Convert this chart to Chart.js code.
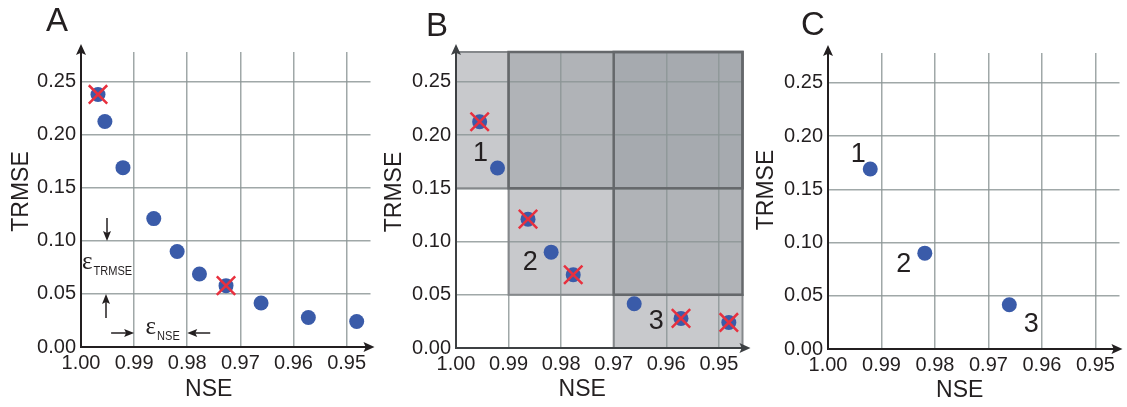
<!DOCTYPE html>
<html><head><meta charset="utf-8">
<script src="https://cdn.jsdelivr.net/npm/chart.js@4"></script>
<style>
html,body{margin:0;padding:0;background:#fff;}
#wrap{position:relative;width:1127px;height:407px;overflow:hidden;background:#fff;}
canvas{position:absolute;top:0;}
</style></head><body>
<div id="wrap">
<canvas id="cA" width="386" height="407" style="left:0px"></canvas>
<canvas id="cB" width="380" height="407" style="left:378px"></canvas>
<canvas id="cC" width="375" height="407" style="left:752px"></canvas>
</div>
<script>
// ---------- data ----------
const nseValues   = [0.9968, 0.9955, 0.9921, 0.9863, 0.9819, 0.9777, 0.9727, 0.9661, 0.9572, 0.9481];
const trmseValues = [0.238, 0.2125, 0.169, 0.121, 0.090, 0.0688, 0.0578, 0.0415, 0.0278, 0.024];
const panelAPoints  = [0, 1, 2, 3, 4, 5, 6, 7, 8, 9];
const panelACrossed = [0, 6];
const panelBPoints  = [1, 2, 3, 4, 5, 7, 8, 9];
const panelBCrossed = [1, 3, 5, 8, 9];
const panelCPoints  = [2, 4, 7];
const panelCCrossed = [];
const solutionIndices = [2, 4, 7];
const solutionLabels  = ['1', '2', '3'];
const xTickValues = [1.00, 0.99, 0.98, 0.97, 0.96, 0.95];
const xTickLabels = ['1.00', '0.99', '0.98', '0.97', '0.96', '0.95'];
const yTickValues = [0.00, 0.05, 0.10, 0.15, 0.20, 0.25];
const yTickLabels = ['0.00', '0.05', '0.10', '0.15', '0.20', '0.25'];
const boxNSE   = [1.00, 0.99, 0.97];
const boxTRMSE = [0.15, 0.05, 0.00];
const epsTRMSE = [0.05, 0.10];
const epsNSE   = [0.99, 0.98];
const panelLetters = ['A', 'B', 'C'];
const xTitle = 'NSE', yTitle = 'TRMSE';
const NSE_MIN = 0.9455, NSE_MAX = 1.0, TRMSE_MIN = 0, TRMSE_MAX = 0.278;

// ---------- style ----------
const SANS = "'Liberation Sans', Arial, Helvetica, sans-serif";
const SERIF = "'Liberation Serif', 'DejaVu Serif', serif";
const TEXT = '#231f20';
const BLUE = '#3a5ba9';
const RED = '#e8303e';
const GRID = 'rgba(139,149,149,0.82)';

function arrowHead(ctx, x, y, dx, dy, len, hw, color) {
  const L = Math.hypot(dx, dy); const ux = dx / L, uy = dy / L;
  ctx.save(); ctx.fillStyle = color; ctx.beginPath();
  ctx.moveTo(x, y);
  ctx.lineTo(x - ux * len - uy * hw, y - uy * len + ux * hw);
  ctx.lineTo(x - ux * len * 0.8, y - uy * len * 0.8);
  ctx.lineTo(x - ux * len + uy * hw, y - uy * len - ux * hw);
  ctx.closePath(); ctx.fill(); ctx.restore();
}
function arrow(ctx, x0, y0, x1, y1) {
  ctx.save(); ctx.strokeStyle = TEXT; ctx.lineWidth = 1.5;
  ctx.beginPath(); ctx.moveTo(x0, y0);
  const dx = x1 - x0, dy = y1 - y0, L = Math.hypot(dx, dy);
  ctx.lineTo(x1 - dx / L * 6, y1 - dy / L * 6); ctx.stroke(); ctx.restore();
  arrowHead(ctx, x1, y1, dx, dy, 10, 4, TEXT);
}
function subText(ctx, txt, x, y) {
  ctx.save();
  ctx.font = '13px ' + SANS;
  ctx.translate(x, y); ctx.scale(0.85, 1);
  ctx.fillText(txt, 0, 0);
  const w = ctx.measureText(txt).width * 0.85;
  ctx.restore();
  return w;
}

const panels = [
  {id: 'cA', letter: panelLetters[0], letterPos: [57, 22], yAxisW: 81, padRight: 9, padTop: 52, xAxisH: 60,
   arrowExt: 4, axisColor: '#231f20', yTitleX: 22, yTitleDY: -8, xTitleDX: -17, xTitleY: 390,
   points: panelAPoints, crossed: panelACrossed, labels: false, boxes: false, eps: true},
  {id: 'cB', letter: panelLetters[1], letterPos: [59, 27], yAxisW: 78, padRight: 9, padTop: 52, xAxisH: 59,
   arrowExt: 8, axisColor: '#3d4043', yTitleX: 17, yTitleDY: -8, xTitleDX: -17, xTitleY: 390,
   points: panelBPoints, crossed: panelBCrossed, labels: true, boxes: true, eps: false,
   labelOffsets: [[-17, -15], [-21, 10], [22, 18]]},
  {id: 'cC', letter: panelLetters[2], letterPos: [61, 26], yAxisW: 76, padRight: 4, padTop: 53, xAxisH: 58,
   arrowExt: 3, axisColor: '#231f20', yTitleX: 15, yTitleDY: -11, xTitleDX: -14, xTitleY: 391,
   points: panelCPoints, crossed: panelCCrossed, labels: true, boxes: false, eps: false,
   labelOffsets: [[-12, -15], [-21, 11], [22, 20]]}
];

function makePanel(cfg) {
  const dotData = cfg.points.map(i => ({x: nseValues[i], y: trmseValues[i]}));
  const crossData = cfg.crossed.map(i => ({x: nseValues[i], y: trmseValues[i]}));
  const datasets = [{
    label: 'solutions', data: dotData, order: 1, showLine: false,
    pointStyle: 'circle', pointRadius: 7.5, pointBackgroundColor: BLUE,
    pointBorderColor: BLUE, pointBorderWidth: 0
  }];
  if (crossData.length) datasets.push({
    label: 'removed', data: crossData, order: 0, showLine: false,
    pointStyle: 'crossRot', pointRadius: 13, pointBorderColor: RED,
    pointBorderWidth: 2.5, pointBackgroundColor: 'transparent'
  });

  const panelPlugin = {
    id: 'panelDecor' + cfg.id,
    beforeDraw(chart) {
      if (!cfg.boxes) return;
      const ctx = chart.ctx, ca = chart.chartArea;
      const px = v => chart.scales.x.getPixelForValue(v), py = v => chart.scales.y.getPixelForValue(v);
      ctx.save();
      for (let i = 0; i < boxNSE.length; i++) {
        const x0 = px(boxNSE[i]);
        const x1 = i + 1 < boxNSE.length ? px(boxNSE[i + 1]) : ca.right;
        const y0 = i === 0 ? ca.top : py(boxTRMSE[i - 1]);
        const y1 = py(boxTRMSE[i]);
        ctx.fillStyle = '#c8c9cc'; ctx.fillRect(x0, y0, x1 - x0, y1 - y0);
      }
      for (let i = 0; i < boxNSE.length - 1; i++) {
        const x0 = px(boxNSE[i + 1]), y1 = py(boxTRMSE[i]);
        ctx.fillStyle = '#b0b3b7'; ctx.fillRect(x0, ca.top, ca.right - x0, y1 - ca.top);
      }
      for (let i = 0; i < boxNSE.length - 1; i++) {
        for (let j = i + 1; j < boxNSE.length - 1; j++) {
          const x0 = px(boxNSE[j + 1]), y1 = py(boxTRMSE[i]);
          ctx.fillStyle = '#a6aaaf'; ctx.fillRect(x0, ca.top, ca.right - x0, y1 - ca.top);
        }
      }
      ctx.restore();
    },
    beforeDatasetsDraw(chart) {
      if (!cfg.boxes) return;
      const ctx = chart.ctx, ca = chart.chartArea;
      const px = v => chart.scales.x.getPixelForValue(v), py = v => chart.scales.y.getPixelForValue(v);
      ctx.save();
      for (let i = 0; i < boxNSE.length; i++) {
        const x0 = px(boxNSE[i]);
        const x1 = i + 1 < boxNSE.length ? px(boxNSE[i + 1]) : ca.right;
        const y0 = i === 0 ? ca.top : py(boxTRMSE[i - 1]);
        const y1 = py(boxTRMSE[i]);
        ctx.strokeStyle = '#85888b'; ctx.lineWidth = 2;
        ctx.strokeRect(x0, y0, x1 - x0, y1 - y0);
      }
      for (let i = 0; i < boxNSE.length - 1; i++) {
        const x0 = px(boxNSE[i + 1]), y1 = py(boxTRMSE[i]);
        ctx.strokeStyle = '#65686b'; ctx.lineWidth = 2.5;
        ctx.strokeRect(x0, ca.top, ca.right - x0, y1 - ca.top);
      }
      ctx.restore();
    },
    afterDraw(chart) {
      const ctx = chart.ctx, ca = chart.chartArea;
      const px = v => chart.scales.x.getPixelForValue(v), py = v => chart.scales.y.getPixelForValue(v);
      ctx.save();
      ctx.strokeStyle = cfg.axisColor; ctx.lineWidth = 2;
      ctx.beginPath();
      ctx.moveTo(ca.left, ca.top - 6); ctx.lineTo(ca.left, ca.bottom);
      ctx.lineTo(ca.right + cfg.arrowExt - 6, ca.bottom);
      ctx.stroke();
      arrowHead(ctx, ca.left, ca.top - 8, 0, -1, 11, 5, cfg.axisColor);
      arrowHead(ctx, ca.right + cfg.arrowExt, ca.bottom, 1, 0, 11, 5, cfg.axisColor);
      ctx.fillStyle = TEXT; ctx.font = '23px ' + SANS;
      ctx.textAlign = 'center'; ctx.textBaseline = 'middle';
      ctx.fillText(xTitle, (ca.left + ca.right) / 2 + cfg.xTitleDX, cfg.xTitleY);
      ctx.save();
      ctx.translate(cfg.yTitleX, (ca.top + ca.bottom) / 2 + cfg.yTitleDY);
      ctx.rotate(-Math.PI / 2);
      ctx.fillText(yTitle, 0, 0);
      ctx.restore();
      ctx.font = '33px ' + SANS;
      ctx.fillText(cfg.letter, cfg.letterPos[0], cfg.letterPos[1]);
      if (cfg.labels) {
        ctx.font = '27px ' + SANS;
        solutionIndices.forEach((i, k) => {
          const x = px(nseValues[i]) + cfg.labelOffsets[k][0];
          const y = py(trmseValues[i]) + cfg.labelOffsets[k][1];
          ctx.fillText(solutionLabels[k], x, y);
        });
      }
      if (cfg.eps) {
        const xv = ca.left + 26;
        arrow(ctx, xv, py(epsTRMSE[1]) - 23, xv, py(epsTRMSE[1]));
        arrow(ctx, xv - 1, py(epsTRMSE[0]) + 24, xv - 1, py(epsTRMSE[0]));
        const yh = ca.bottom - 14;
        arrow(ctx, px(epsNSE[0]) - 23, yh, px(epsNSE[0]), yh);
        arrow(ctx, px(epsNSE[1]) + 23, yh, px(epsNSE[1]), yh);
        const mid = (py(epsTRMSE[0]) + py(epsTRMSE[1])) / 2;
        ctx.textAlign = 'left';
        ctx.font = '25px ' + SERIF;
        const we = ctx.measureText('\u03b5').width;
        ctx.fillText('\u03b5', ca.left + 1, mid - 5);
        subText(ctx, 'TRMSE', ca.left + 1 + we + 1, mid + 4);
        ctx.font = '13px ' + SANS;
        const wsub = ctx.measureText('NSE').width * 0.85;
        const cx = (px(epsNSE[0]) + px(epsNSE[1])) / 2 + 2;
        const x0 = cx - (we + 1 + wsub) / 2;
        ctx.font = '25px ' + SERIF;
        ctx.fillText('\u03b5', x0, ca.bottom - 20);
        subText(ctx, 'NSE', x0 + we + 1, ca.bottom - 11);
      }
      ctx.restore();
    }
  };

  return new Chart(document.getElementById(cfg.id), {
    type: 'scatter',
    data: {datasets},
    options: {
      responsive: false, animation: false, events: [],
      devicePixelRatio: 1,
      layout: {padding: {left: 0, top: cfg.padTop, right: cfg.padRight, bottom: 0}},
      plugins: {legend: {display: false}, tooltip: {enabled: false}, title: {display: false}},
      scales: {
        x: {
          type: 'linear', reverse: true, min: NSE_MIN, max: NSE_MAX,
          afterBuildTicks: s => { s.ticks = xTickValues.map(v => ({value: v})); },
          afterFit: s => { s.height = cfg.xAxisH; },
          ticks: {callback: (v, i) => xTickLabels[i], autoSkip: false, maxRotation: 0,
                  padding: 4, color: TEXT, font: {size: 20, family: SANS}},
          grid: {color: GRID, lineWidth: 1.5, drawTicks: false},
          border: {display: false},
          title: {display: false}
        },
        y: {
          type: 'linear', min: TRMSE_MIN, max: TRMSE_MAX,
          afterBuildTicks: s => { s.ticks = yTickValues.map(v => ({value: v})); },
          afterFit: s => { s.width = cfg.yAxisW; },
          ticks: {callback: (v, i) => yTickLabels[i], autoSkip: false,
                  padding: 5, color: TEXT, font: {size: 20, family: SANS}},
          grid: {color: GRID, lineWidth: 1.5, drawTicks: false},
          border: {display: false},
          title: {display: false}
        }
      }
    },
    plugins: [panelPlugin]
  });
}

panels.forEach(makePanel);
</script>
</body></html>
